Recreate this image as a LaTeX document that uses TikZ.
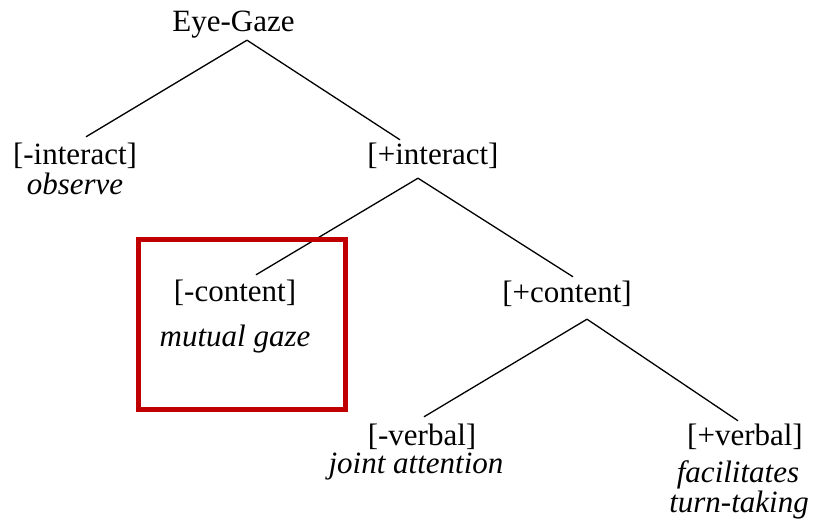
\documentclass[tikz,border=0pt]{standalone}
\usepackage{fontspec}
\setmainfont{Liberation Serif}
\usepackage{xcolor}
\definecolor{boxred}{RGB}{192,0,0}

\begin{document}
\begin{tikzpicture}[x=1pt, y=-1pt,
        feat/.style={inner sep=0pt, anchor=base, text height=22pt, text depth=7pt,
            font=\fontsize{31}{36}\selectfont},
        gloss/.style={feat, font=\fontsize{31}{36}\selectfont\itshape},
        branch/.style={line width=1.3pt},
        highlight/.style={draw=boxred, line width=5pt}]
        \useasboundingbox (0,0) rectangle (827,526);

        \node[feat] (eye) at (233.5,32) {Eye-Gaze};

        \node[feat] (minter) at (75,165) {[-interact]};
        \node[gloss] (observe) at (75,195) {observe};
        \node[feat] (pinter) at (433,165) {[+interact]};

        \node[feat] (mcont) at (235,302) {[-content]};
        \node[gloss] (mutual) at (235,347) {mutual gaze};
        \node[feat] (pcont) at (567,303) {[+content]};

        \node[feat] (mverb) at (422,445) {[-verbal]};
        \node[gloss] (joint) at (416,473) {joint attention};
        \node[feat] (pverb) at (745,445) {[+verbal]};
        \node[gloss] (facil) at (738,482) {facilitates};
        \node[gloss] (turn) at (739,512) {turn-taking};

        \draw[branch] ([shift={(13.5,1)}]eye.south) -- ([shift={(11,-6)}]minter.north);
        \draw[branch] ([shift={(13.5,1)}]eye.south) -- ([shift={(-33,-3)}]pinter.north);
        \draw[branch] ([shift={(-15,6)}]pinter.south) -- ([shift={(21,-5)}]mcont.north);
        \draw[branch] ([shift={(-15,6)}]pinter.south) -- ([shift={(6,-4)}]pcont.north);
        \draw[branch] ([shift={(20,9)}]pcont.south) -- ([shift={(2,-6)}]mverb.north);
        \draw[branch] ([shift={(20,9)}]pcont.south) -- ([shift={(-7,-2)}]pverb.north);

        \draw[highlight] (138,240) rectangle (345,409);
\end{tikzpicture}
\end{document}
